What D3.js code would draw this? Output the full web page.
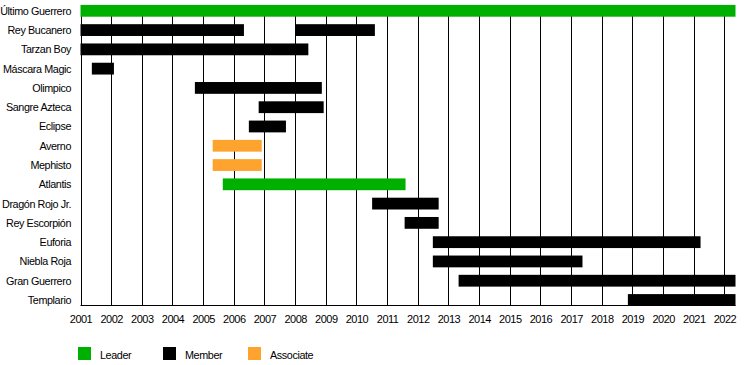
<!DOCTYPE html>
<html>
<head>
<meta charset="utf-8">
<script src="https://cdn.jsdelivr.net/npm/d3@7"></script>
<style>
  body { margin: 0; background: #fff; }
  svg { display: block; font-family: "Liberation Sans", Arial, sans-serif; }
</style>
</head>
<body>
<svg id="chart" width="750" height="365"></svg>
<script>
"use strict";
// wrestlers, top to bottom
const members = [
    "Último Guerrero", "Rey Bucanero", "Tarzan Boy", "Máscara Magic", "Olimpico",
    "Sangre Azteca", "Eclipse", "Averno", "Mephisto", "Atlantis", "Dragón Rojo Jr.",
    "Rey Escorpión", "Euforia", "Niebla Roja", "Gran Guerrero", "Templario"
];
const years = [2001, 2002, 2003, 2004, 2005, 2006, 2007, 2008, 2009, 2010, 2011,
    2012, 2013, 2014, 2015, 2016, 2017, 2018, 2019, 2020, 2021, 2022];
const endOfData = 2022.36;
// [name, from, till] in decimal years
const leaderSpans = [
    ["Último Guerrero", 2001, endOfData],
    ["Atlantis", 2005.64, 2011.6]
];
const memberSpans = [
    ["Rey Bucanero", 2001, 2006.33],
    ["Rey Bucanero", 2008.01, 2010.6],
    ["Tarzan Boy", 2001, 2008.43],
    ["Máscara Magic", 2001.37, 2002.09],
    ["Olimpico", 2004.73, 2008.87],
    ["Sangre Azteca", 2006.81, 2008.93],
    ["Eclipse", 2006.49, 2007.7],
    ["Dragón Rojo Jr.", 2010.51, 2012.68],
    ["Rey Escorpión", 2011.57, 2012.68],
    ["Euforia", 2012.49, 2021.22],
    ["Niebla Roja", 2012.49, 2017.37],
    ["Gran Guerrero", 2013.33, endOfData],
    ["Templario", 2018.85, endOfData]
];
const associateSpans = [
    ["Averno", 2005.31, 2006.91],
    ["Mephisto", 2005.31, 2006.91]
];
const legendItems = ["Leader", "Member", "Associate"];
const colors = { Leader: "#00b000", Member: "#000000", Associate: "#ffa32f" };

const svg = d3.select("#chart");
const plotTop = 5, plotBottom = 305;
const x = d3.scaleLinear().domain([2001, endOfData]).range([80.5, 735.5]);
const y = d3.scalePoint().domain(members).range([10.8, 300]);
const barH = 11.8;

// year grid
svg.append("g")
    .selectAll("line")
    .data(years)
    .join("line")
    .attr("x1", (d) => Math.round(x(d)) + 0.5)
    .attr("x2", (d) => Math.round(x(d)) + 0.5)
    .attr("y1", plotTop)
    .attr("y2", plotBottom)
    .attr("stroke", "#000")
    .attr("stroke-width", 1);

// bars
const spans = [].concat(
    leaderSpans.map((s) => ({ name: s[0], from: s[1], till: s[2], role: "Leader" })),
    memberSpans.map((s) => ({ name: s[0], from: s[1], till: s[2], role: "Member" })),
    associateSpans.map((s) => ({ name: s[0], from: s[1], till: s[2], role: "Associate" }))
);
svg.append("g")
    .selectAll("rect")
    .data(spans)
    .join("rect")
    .attr("x", (d) => x(d.from))
    .attr("width", (d) => x(d.till) - x(d.from))
    .attr("y", (d) => y(d.name) - barH / 2)
    .attr("height", barH)
    .attr("fill", (d) => colors[d.role]);

// bottom axis
const xAxis = d3.axisBottom(x)
    .tickValues(years)
    .tickFormat(d3.format("d"))
    .tickSize(0)
    .tickPadding(10);
const axisG = svg.append("g")
    .attr("transform", `translate(0,${plotBottom + 0.5})`)
    .call(xAxis);
axisG.select(".domain").attr("stroke", "#000").attr("d", `M${x(2001)},0H${x(endOfData)}`);
axisG.selectAll("text")
    .attr("font-size", 11)
    .attr("letter-spacing", "-0.5px")
    .attr("font-family", "Liberation Sans, Arial, sans-serif")
    .attr("fill", "#000");

// left names
svg.append("g")
    .selectAll("text")
    .data(members)
    .join("text")
    .attr("x", 71)
    .attr("y", (d) => y(d) + 4)
    .attr("text-anchor", "end")
    .attr("font-size", 10.8)
    .attr("letter-spacing", "-0.4px")
    .text((d) => d);

// legend
const legendX = [78, 163, 248];
const legend = svg.append("g")
    .selectAll("g")
    .data(legendItems)
    .join("g")
    .attr("transform", (d, i) => `translate(${legendX[i]},347)`);
legend.append("rect")
    .attr("width", 13)
    .attr("height", 13)
    .attr("fill", (d) => colors[d]);
legend.append("text")
    .attr("x", 22)
    .attr("y", 12)
    .attr("font-size", 10.8)
    .attr("letter-spacing", "-0.4px")
    .text((d) => d);
</script>
</body>
</html>
